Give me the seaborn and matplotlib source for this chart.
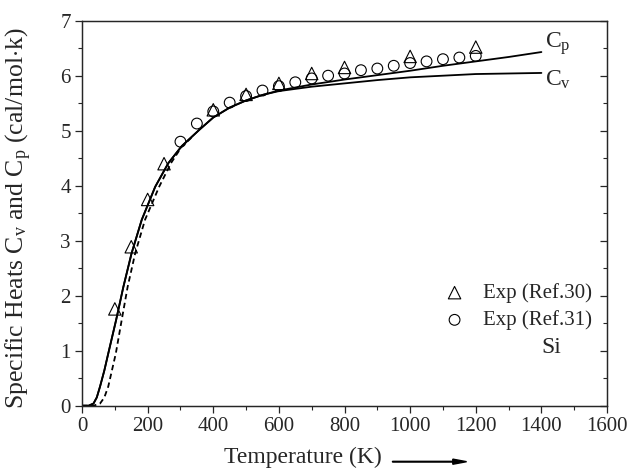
import numpy as np
import pandas as pd
import matplotlib
matplotlib.use("Agg")
import matplotlib.pyplot as plt
import seaborn as sns
from matplotlib.ticker import MultipleLocator

# curves; Cp and Cv coincide below ~600 K
t_low = [0, 20, 35, 45, 55, 68, 80, 104, 126, 151, 182, 223, 263, 304, 360, 400, 450, 500, 550]
c_low = [0, 0.0, 0.04, 0.15, 0.35, 0.64, 0.95, 1.56, 2.16, 2.77, 3.38, 3.98, 4.41, 4.72, 5.03, 5.24, 5.42, 5.55, 5.65]
t_high = [600, 700, 800, 900, 1000, 1100, 1200, 1300, 1400]
cp_high = [5.73, 5.84, 5.93, 6.01, 6.09, 6.18, 6.26, 6.34, 6.43]
cv_high = [5.72, 5.80, 5.86, 5.92, 5.97, 6.00, 6.03, 6.04, 6.05]

# dashed curve at low temperature
t_dash = [0, 35, 55, 68, 80, 103, 121, 139, 162, 192, 235, 271, 304, 340]
c_dash = [0, 0.0, 0.04, 0.15, 0.35, 0.95, 1.56, 2.16, 2.77, 3.38, 3.98, 4.41, 4.71, 4.91]

# experimental points
t_ref30 = [100, 150, 200, 250, 400, 500, 600, 700, 800, 1000, 1200]
c_ref30 = [1.76, 2.89, 3.75, 4.40, 5.38, 5.66, 5.86, 6.04, 6.15, 6.35, 6.52]
t_ref31 = [300, 350, 400, 450, 500, 550, 600, 650, 700, 750, 800, 850, 900, 950, 1000, 1050, 1100, 1150, 1200]
c_ref31 = [4.80, 5.13, 5.35, 5.51, 5.63, 5.73, 5.81, 5.88, 5.95, 6.00, 6.04, 6.10, 6.13, 6.18, 6.23, 6.26, 6.30, 6.33, 6.36]

cp = pd.DataFrame({"T": t_low + t_high, "C": c_low + cp_high})
cv = pd.DataFrame({"T": t_low + t_high, "C": c_low + cv_high})
dash = pd.DataFrame({"T": t_dash, "C": c_dash})
exp30 = pd.DataFrame({"T": t_ref30, "C": c_ref30})
exp31 = pd.DataFrame({"T": t_ref31, "C": c_ref31})

sns.set_style("ticks")
plt.rcParams["font.family"] = ["Liberation Serif", "DejaVu Serif"]
plt.rcParams["mathtext.fontset"] = "custom"
plt.rcParams["mathtext.rm"] = "Liberation Serif"
plt.rcParams["mathtext.it"] = "Liberation Serif:italic"

fig = plt.figure(figsize=(6.28, 4.68), dpi=100)
ax = fig.add_axes([0.1306, 0.1331, 0.836, 0.8227])

sns.lineplot(data=cp, x="T", y="C", color="black", lw=1.3, ax=ax)
sns.lineplot(data=cv, x="T", y="C", color="black", lw=1.3, ax=ax)
sns.lineplot(data=dash, x="T", y="C", color="black", lw=1.3, ax=ax, linestyle=(0, (3, 2)))
sns.scatterplot(data=exp30, x="T", y="C", marker="^", s=80, facecolor="none",
                edgecolor="black", linewidth=0.8, ax=ax, label="Exp (Ref.30)")
sns.scatterplot(data=exp31, x="T", y="C", marker="o", s=60, facecolor="none",
                edgecolor="black", linewidth=0.8, ax=ax, label="Exp (Ref.31)")

ax.set_xlim(0, 1600)
ax.set_ylim(0, 7)
ax.xaxis.set_major_locator(MultipleLocator(200))
ax.xaxis.set_minor_locator(MultipleLocator(100))
ax.yaxis.set_major_locator(MultipleLocator(1))
ax.yaxis.set_minor_locator(MultipleLocator(0.5))
ax.tick_params(which="major", direction="out", length=5, width=0.9, labelsize=15, pad=3)
ax.tick_params(which="minor", direction="out", length=3, width=0.8)
for s in ax.spines.values():
    s.set_linewidth(0.9)

ax2 = ax.twinx()
ax2.set_ylim(0, 7)
ax2.yaxis.set_major_locator(MultipleLocator(1))
ax2.yaxis.set_minor_locator(MultipleLocator(0.5))
ax2.tick_params(which="major", direction="in", length=5, width=0.9, labelright=False)
ax2.tick_params(which="minor", direction="in", length=3, width=0.8)
for s in ax2.spines.values():
    s.set_linewidth(0.9)

ax.set_xlabel("Temperature (K)", fontsize=17)
ax.xaxis.set_label_coords(0.421, -0.106)
ax.set_ylabel(r"Specific Heats C$_\mathrm{v}$ and C$_\mathrm{p}$ (cal/mol$\cdot$k)", fontsize=18.5)
ax.yaxis.set_label_coords(-0.092, 0.487)

ax.text(1410, 6.58, r"C$_\mathrm{p}$", fontsize=17, va="center", ha="left")
ax.text(1410, 5.92, r"C$_\mathrm{v}$", fontsize=17, va="center", ha="left")
ax.text(1430, 1.05, "Si", fontsize=17, ha="center", va="center")

ax.legend(loc="center left", bbox_to_anchor=(0.66, 0.257), frameon=False, fontsize=15,
          handletextpad=0.6, labelspacing=0.35, borderpad=0, handlelength=1.5)

fig.patches.append(matplotlib.patches.FancyArrow(0.625, 0.0135, 0.118, 0, width=0.0015,
                   head_width=0.011, head_length=0.022, color="black",
                   transform=fig.transFigure, length_includes_head=True))

fig.savefig("out.png", dpi=100)
